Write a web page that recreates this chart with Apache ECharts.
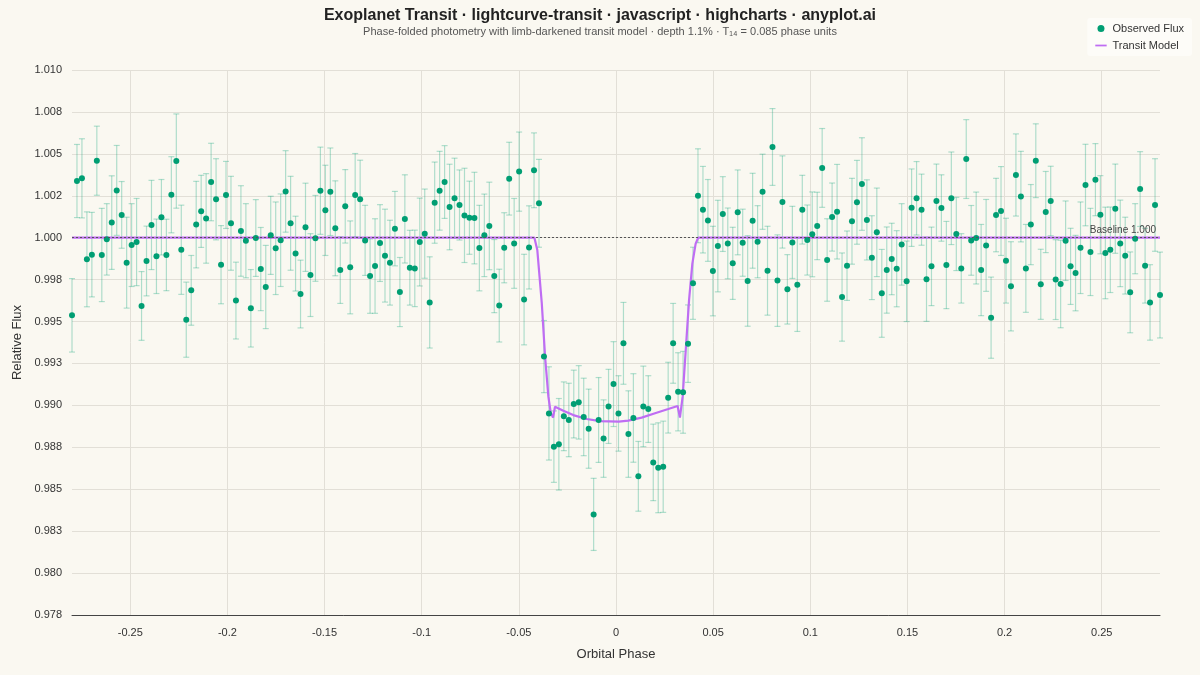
<!DOCTYPE html>
<html>
<head>
<meta charset="utf-8">
<title>Exoplanet Transit</title>
<script src="https://cdn.jsdelivr.net/npm/echarts@6/dist/echarts.min.js"></script>
<style>
    html, body { margin: 0; padding: 0; background: #faf8f1; }
    #chart { width: 1200px; height: 675px; }
</style>
</head>
<body>
<div id="chart"></div>
<script>
// phase grid of the folded light curve (evenly spaced)
var PHASE_MIN = -0.28;
var PHASE_MAX = 0.28;
var N_POINTS = 220;

// observed relative flux, one value per phase bin
var flux = [
    0.99537, 1.00338, 1.00354, 0.99871, 0.99899, 1.00459, 0.99897, 0.99990, 1.00090, 1.00282,
    1.00136, 0.99851, 0.99956, 0.99974, 0.99593, 0.99861, 1.00076, 0.99889, 1.00122, 0.99897,
    1.00256, 1.00457, 0.99928, 0.99511, 0.99686, 1.00078, 1.00157, 1.00115, 1.00332, 1.00229,
    0.99839, 1.00255, 1.00086, 0.99625, 1.00040, 0.99982, 0.99579, 0.99998, 0.99813, 0.99706,
    1.00014, 0.99937, 0.99985, 1.00276, 1.00086, 0.99905, 0.99664, 1.00062, 0.99777, 0.99996,
    1.00280, 1.00163, 1.00274, 1.00056, 0.99807, 1.00187, 0.99823, 1.00254, 1.00229, 0.99984,
    0.99771, 0.99831, 0.99968, 0.99893, 0.99851, 1.00054, 0.99676, 1.00112, 0.99821, 0.99817,
    0.99974, 1.00024, 0.99614, 1.00209, 1.00280, 1.00332, 1.00183, 1.00235, 1.00195, 1.00133,
    1.00119, 1.00117, 0.99938, 1.00014, 1.00070, 0.99771, 0.99595, 0.99940, 1.00352, 0.99966,
    1.00394, 0.99631, 0.99942, 1.00402, 1.00205, 0.99291, 0.98952, 0.98754, 0.98768, 0.98935,
    0.98913, 0.99008, 0.99018, 0.98931, 0.98861, 0.98350, 0.98913, 0.98802, 0.98994, 0.99127,
    0.98952, 0.99370, 0.98829, 0.98925, 0.98577, 0.98994, 0.98978, 0.98660, 0.98628, 0.98634,
    0.99046, 0.99370, 0.99081, 0.99078, 0.99368, 0.99728, 1.00250, 1.00167, 1.00103, 0.99801,
    0.99950, 1.00141, 0.99966, 0.99847, 1.00151, 0.99970, 0.99742, 1.00101, 0.99976, 1.00274,
    0.99803, 1.00541, 0.99744, 1.00213, 0.99692, 0.99972, 0.99720, 1.00167, 0.99986, 1.00020,
    1.00070, 1.00416, 0.99867, 1.00123, 1.00155, 0.99646, 0.99833, 1.00098, 1.00211, 1.00320,
    1.00106, 0.99881, 1.00032, 0.99668, 0.99807, 0.99873, 0.99815, 0.99960, 0.99740, 1.00179,
    1.00235, 1.00167, 0.99752, 0.99829, 1.00219, 1.00177, 0.99837, 1.00235, 1.00022, 0.99817,
    1.00469, 0.99984, 0.99998, 0.99807, 0.99954, 0.99523, 1.00135, 1.00159, 0.99863, 0.99710,
    1.00374, 1.00245, 0.99817, 1.00078, 1.00459, 0.99722, 1.00153, 1.00219, 0.99750, 0.99724,
    0.99982, 0.99829, 0.99789, 0.99940, 1.00314, 0.99915, 1.00346, 1.00137, 0.99909, 0.99928,
    1.00173, 0.99966, 0.99893, 0.99674, 0.99994, 1.00290, 0.99833, 0.99614, 1.00195, 0.99658
];

// 1-sigma flux uncertainty
var fluxErr = [
    0.00219, 0.00218, 0.00236, 0.00283, 0.00252, 0.00206, 0.00278, 0.00213, 0.00279, 0.00268,
    0.00199, 0.00271, 0.00247, 0.00260, 0.00205, 0.00208, 0.00266, 0.00222, 0.00225, 0.00213,
    0.00227, 0.00281, 0.00266, 0.00224, 0.00208, 0.00258, 0.00215, 0.00267, 0.00231, 0.00242,
    0.00233, 0.00200, 0.00280, 0.00229, 0.00270, 0.00221, 0.00231, 0.00229, 0.00248, 0.00248,
    0.00233, 0.00276, 0.00276, 0.00243, 0.00280, 0.00223, 0.00202, 0.00263, 0.00247, 0.00256,
    0.00260, 0.00269, 0.00261, 0.00283, 0.00199, 0.00219, 0.00277, 0.00248, 0.00233, 0.00209,
    0.00222, 0.00282, 0.00229, 0.00277, 0.00253, 0.00222, 0.00206, 0.00263, 0.00223, 0.00228,
    0.00262, 0.00266, 0.00272, 0.00242, 0.00235, 0.00217, 0.00255, 0.00239, 0.00209, 0.00281,
    0.00218, 0.00273, 0.00255, 0.00246, 0.00261, 0.00218, 0.00217, 0.00209, 0.00217, 0.00268,
    0.00236, 0.00270, 0.00248, 0.00223, 0.00262, 0.00215, 0.00278, 0.00213, 0.00273, 0.00205,
    0.00219, 0.00202, 0.00219, 0.00231, 0.00236, 0.00215, 0.00253, 0.00231, 0.00221, 0.00253,
    0.00225, 0.00244, 0.00258, 0.00264, 0.00208, 0.00240, 0.00199, 0.00228, 0.00268, 0.00272,
    0.00211, 0.00238, 0.00233, 0.00244, 0.00231, 0.00215, 0.00280, 0.00258, 0.00244, 0.00267,
    0.00273, 0.00223, 0.00211, 0.00215, 0.00253, 0.00200, 0.00270, 0.00283, 0.00215, 0.00224,
    0.00265, 0.00229, 0.00273, 0.00275, 0.00207, 0.00215, 0.00279, 0.00205, 0.00209, 0.00253,
    0.00201, 0.00235, 0.00246, 0.00203, 0.00282, 0.00263, 0.00207, 0.00256, 0.00250, 0.00276,
    0.00239, 0.00250, 0.00264, 0.00262, 0.00257, 0.00213, 0.00227, 0.00243, 0.00240, 0.00231,
    0.00219, 0.00212, 0.00251, 0.00234, 0.00220, 0.00198, 0.00260, 0.00276, 0.00218, 0.00207,
    0.00235, 0.00208, 0.00274, 0.00272, 0.00274, 0.00242, 0.00219, 0.00265, 0.00253, 0.00266,
    0.00245, 0.00270, 0.00262, 0.00239, 0.00220, 0.00209, 0.00242, 0.00207, 0.00238, 0.00261,
    0.00237, 0.00227, 0.00225, 0.00273, 0.00243, 0.00260, 0.00215, 0.00233, 0.00273, 0.00255,
    0.00266, 0.00258, 0.00229, 0.00241, 0.00209, 0.00223, 0.00223, 0.00225, 0.00276, 0.00256
];

// limb-darkened transit model, as drawn
var modelPhase = [
    -0.28, -0.0420, -0.0405, -0.0382, -0.0365, -0.0348, -0.0336, -0.0324, -0.0314,
    -0.0271, -0.0220, -0.0151, -0.0082, 0.0014, 0.0063, 0.0132, 0.0201, 0.0269,
    0.0317, 0.0329, 0.0343, 0.0359, 0.0376, 0.0393, 0.0410, 0.0423, 0.28
];
var modelFlux = [
    1.0, 1.0, 0.99926, 0.99609, 0.99290, 0.99052, 0.98956, 0.98927, 0.98992,
    0.98968, 0.98942, 0.98919, 0.98906, 0.98903, 0.98909, 0.98927, 0.98953, 0.98978,
    0.98996, 0.98927, 0.99052, 0.99330, 0.99628, 0.99845, 0.99965, 1.0, 1.0
];

var BASELINE = 1.0;

var POINT_COLOR = '#009e73';
var ERR_COLOR = 'rgba(0, 158, 115, 0.3)';
var MODEL_COLOR = '#bf6df3';
var FONT = 'Liberation Sans';

function buildRows() {
    var step = (PHASE_MAX - PHASE_MIN) / (N_POINTS - 1);
    var pts = [];
    var bars = [];
    for (var i = 0; i < flux.length; i++) {
        var ph = PHASE_MIN + i * step;
        pts.push([ph, flux[i]]);
        bars.push([ph, flux[i] - fluxErr[i], flux[i] + fluxErr[i]]);
    }
    return { pts: pts, bars: bars };
}

function renderErrorBar(params, api) {
    var x = api.value(0);
    var lo = api.coord([x, api.value(1)]);
    var hi = api.coord([x, api.value(2)]);
    var cap = 3;
    var style = { stroke: ERR_COLOR, lineWidth: 1.2 };
    return {
        type: 'group',
        children: [
            { type: 'line', shape: { x1: hi[0], y1: hi[1], x2: lo[0], y2: lo[1] }, style: style },
            { type: 'line', shape: { x1: hi[0] - cap, y1: hi[1], x2: hi[0] + cap, y2: hi[1] }, style: style },
            { type: 'line', shape: { x1: lo[0] - cap, y1: lo[1], x2: lo[0] + cap, y2: lo[1] }, style: style }
        ]
    };
}

var rows = buildRows();
var modelData = modelPhase.map(function(p, i) { return [p, modelFlux[i]]; });

var chart = echarts.init(document.getElementById('chart'));

var option = {
    backgroundColor: '#faf8f1',
    animation: false,
    title: {
        text: 'Exoplanet Transit · lightcurve-transit · javascript · highcharts · anyplot.ai',
        subtext: 'Phase-folded photometry with limb-darkened transit model · depth 1.1% · T₁₄ = 0.085 phase units',
        left: 'center',
        top: 3,
        itemGap: 2,
        textStyle: { fontSize: 16, fontWeight: 'bold', color: '#222', fontFamily: FONT },
        subtextStyle: { fontSize: 11, color: '#555', fontFamily: FONT }
    },
    legend: {
        orient: 'vertical',
        right: 8,
        top: 18,
        padding: [5, 8, 5, 8],
        itemGap: 6,
        itemWidth: 13,
        itemHeight: 7,
        backgroundColor: '#fdfcf8',
        borderRadius: 3,
        textStyle: { fontSize: 11, color: '#333', fontFamily: FONT },
        data: [
            { name: 'Observed Flux', icon: 'circle' },
            { name: 'Transit Model', icon: 'path://M0,0 L0,0 M0,3 L13,3 L13,5 L0,5 Z M13,8 L13,8' }
        ]
    },
    grid: { left: 72, right: 40, top: 70, bottom: 60 },
    xAxis: {
        type: 'value',
        min: PHASE_MIN,
        max: PHASE_MAX,
        splitNumber: 11,
        name: 'Orbital Phase',
        nameLocation: 'middle',
        nameGap: 33,
        nameTextStyle: { fontSize: 13, color: '#333', fontFamily: FONT },
        axisLine: { show: true, lineStyle: { color: '#444' } },
        axisTick: { show: false },
        axisLabel: {
            fontSize: 11, color: '#333', margin: 12, fontFamily: FONT,
            showMinLabel: false, showMaxLabel: false
        },
        splitLine: { show: true, showMinLine: false, showMaxLine: false, lineStyle: { color: '#e2dfd7', width: 1 } }
    },
    yAxis: {
        type: 'value',
        min: 0.9775,
        max: 1.010,
        interval: 0.0025,
        name: 'Relative Flux',
        nameLocation: 'middle',
        nameGap: 40,
        nameTextStyle: { fontSize: 13, color: '#333', fontFamily: FONT },
        axisLine: { show: false },
        axisTick: { show: false },
        axisLabel: {
            fontSize: 11, color: '#333', margin: 10, fontFamily: FONT,
            formatter: function(v) { return v.toFixed(3); }
        },
        splitLine: { lineStyle: { color: '#e2dfd7', width: 1 } }
    },
    series: [
        {
            name: 'Error',
            type: 'custom',
            renderItem: renderErrorBar,
            encode: { x: 0, y: [1, 2] },
            data: rows.bars,
            silent: true,
            z: 1
        },
        {
            name: 'Baseline',
            type: 'line',
            data: [],
            z: 2,
            markLine: {
                silent: true,
                symbol: 'none',
                lineStyle: { color: '#555', type: [2, 2], width: 1 },
                label: {
                    position: 'insideEndTop',
                    formatter: 'Baseline 1.000',
                    fontSize: 10,
                    color: '#444',
                    distance: [4, 2]
                },
                data: [{ yAxis: BASELINE }]
            }
        },
        {
            name: 'Transit Model',
            type: 'line',
            data: modelData,
            symbol: 'none',
            color: MODEL_COLOR,
            lineStyle: { color: MODEL_COLOR, width: 2.2 },
            z: 3
        },
        {
            name: 'Observed Flux',
            type: 'scatter',
            data: rows.pts,
            symbolSize: 6,
            itemStyle: { color: POINT_COLOR, opacity: 1 },
            z: 4
        }
    ]
};

chart.setOption(option);
</script>
</body>
</html>
